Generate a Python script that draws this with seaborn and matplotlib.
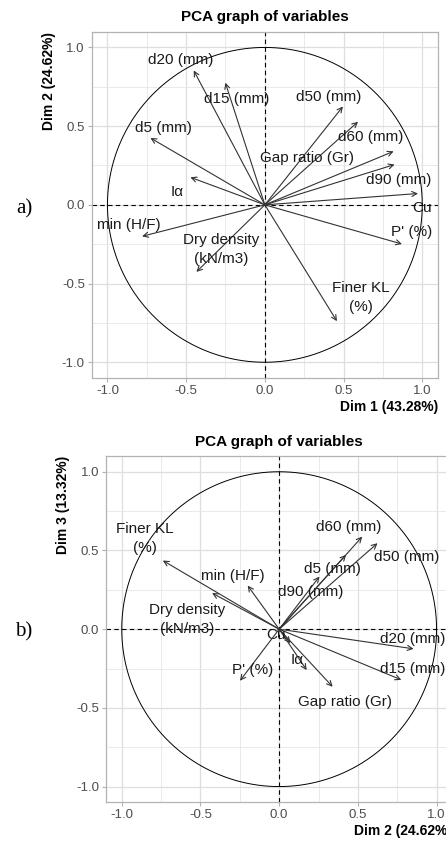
import numpy as np
import pandas as pd
import matplotlib
matplotlib.use("Agg")
import matplotlib.pyplot as plt
import seaborn as sns

# Variable coordinates (correlations) on the first three principal dimensions
variables = ["d20 (mm)", "d15 (mm)", "d50 (mm)", "d60 (mm)", "Gap ratio (Gr)",
             "d90 (mm)", "d5 (mm)", "I\u03b1", "Cu", "P' (%)",
             "Finer KL\n(%)", "min (H/F)", "Dry density\n(kN/m3)"]
dim1 = [-0.452, -0.251, 0.496, 0.592, 0.818, 0.824, -0.727, -0.473, 0.973, 0.871,
        0.458, -0.780, -0.435]
dim2 = [0.854, 0.776, 0.625, 0.528, 0.340, 0.256, 0.425, 0.175, 0.072, -0.249,
        -0.739, -0.200, -0.426]
dim3 = [-0.125, -0.322, 0.546, 0.588, -0.366, 0.334, 0.472, -0.260, -0.089, -0.328,
        0.436, 0.277, 0.229]

axis_ticks = [-1.0, -0.5, 0.0, 0.5, 1.0]
tick_labels = ["-1.0", "-0.5", "0.0", "0.5", "1.0"]
dim_labels = {"Dim 1": "Dim 1 (43.28%)", "Dim 2": "Dim 2 (24.62%)",
              "Dim 3": "Dim 3 (13.32%)"}

coords = pd.DataFrame({"variable": variables, "Dim 1": dim1, "Dim 2": dim2,
                       "Dim 3": dim3})

# Label placement (repelled away from the arrow tips)
label_pos_a = {
    "d20 (mm)": (-0.536, 0.918), "d15 (mm)": (-0.177, 0.675),
    "d50 (mm)": (0.405, 0.686), "d60 (mm)": (0.674, 0.428),
    "Gap ratio (Gr)": (0.268, 0.295), "d90 (mm)": (0.850, 0.158),
    "d5 (mm)": (-0.646, 0.489), "I\u03b1": (-0.557, 0.080),
    "Cu": (0.998, -0.021), "P' (%)": (0.930, -0.175),
    "Finer KL\n(%)": (0.611, -0.591), "min (H/F)": (-0.865, -0.127),
    "Dry density\n(kN/m3)": (-0.280, -0.283),
}
label_pos_b = {
    "d20 (mm)": (0.851, -0.063), "d15 (mm)": (0.851, -0.252),
    "d50 (mm)": (0.809, 0.457), "d60 (mm)": (0.444, 0.651),
    "Gap ratio (Gr)": (0.421, -0.464), "d90 (mm)": (0.199, 0.235),
    "d5 (mm)": (0.339, 0.383), "I\u03b1": (0.114, -0.199),
    "Cu": (-0.017, -0.036), "P' (%)": (-0.169, -0.258),
    "Finer KL\n(%)": (-0.853, 0.577), "min (H/F)": (-0.292, 0.340),
    "Dry density\n(kN/m3)": (-0.584, 0.061),
}

sns.set_theme(style="whitegrid")
plt.rcParams.update({
    "font.family": ["Liberation Sans", "DejaVu Sans"],
    "axes.unicode_minus": False,
    "axes.edgecolor": "#b3b3b3",
    "axes.linewidth": 0.8,
    "grid.color": "#dedede",
    "grid.linewidth": 0.8,
    "xtick.color": "#b3b3b3",
    "ytick.color": "#b3b3b3",
    "xtick.labelcolor": "#4d4d4d",
    "ytick.labelcolor": "#4d4d4d",
    "xtick.labelsize": 9.5,
    "ytick.labelsize": 9.5,
})

W, H = 446, 843
fig = plt.figure(figsize=(W / 100, H / 100), dpi=100)
panel = 346.3
ax_a = fig.add_axes([91.7 / W, (H - 378.0) / H, panel / W, panel / H])
ax_b = fig.add_axes([106.0 / W, (H - 802.3) / H, panel / W, panel / H])

theta = np.linspace(0, 2 * np.pi, 361)
circle = pd.DataFrame({"x": np.cos(theta), "y": np.sin(theta)})


def draw_panel(ax, xdim, ydim, label_pos, tag):
    ax.set_xlim(-1.1, 1.1)
    ax.set_ylim(-1.1, 1.1)
    ax.set_xticks(axis_ticks)
    ax.set_yticks(axis_ticks)
    ax.set_xticklabels(tick_labels)
    ax.set_yticklabels(tick_labels)
    ax.set_xticks([-0.75, -0.25, 0.25, 0.75], minor=True)
    ax.set_yticks([-0.75, -0.25, 0.25, 0.75], minor=True)
    ax.grid(which="major", color="#dedede", linewidth=0.9)
    ax.grid(which="minor", color="#e6e6e6", linewidth=0.6)
    ax.tick_params(which="major", length=3.0, width=0.8, pad=2, bottom=True,
                   left=True)
    ax.tick_params(which="minor", length=0)
    for s in ax.spines.values():
        s.set_visible(True)
        s.set_color("#b3b3b3")
        s.set_linewidth(0.9)
    ax.set_axisbelow(True)

    sns.lineplot(data=circle, x="x", y="y", sort=False, estimator=None,
                 color="black", linewidth=0.7, ax=ax)
    ax.axhline(0, color="black", linestyle=(0, (4, 3)), linewidth=0.8)
    ax.axvline(0, color="black", linestyle=(0, (4, 3)), linewidth=0.8)

    for _, row in coords.iterrows():
        ax.annotate("", xy=(row[xdim], row[ydim]), xytext=(0, 0),
                    arrowprops=dict(arrowstyle="->", color="#333333", lw=0.8,
                                    shrinkA=0, shrinkB=0, mutation_scale=9))
        lx, ly = label_pos[row["variable"]]
        ax.text(lx, ly, row["variable"], ha="center", va="center", fontsize=11,
                color="#1a1a1a", linespacing=1.45)

    ax.set_title("PCA graph of variables", fontsize=11, fontweight="bold",
                 color="black", pad=7.5)
    ax.set_xlabel(dim_labels[xdim], loc="right", fontsize=10, fontweight="bold",
                  color="black", labelpad=2)
    ax.set_ylabel(dim_labels[ydim], loc="top", fontsize=10, fontweight="bold",
                  color="black", labelpad=4)
    ax.set_aspect("auto")


draw_panel(ax_a, "Dim 1", "Dim 2", label_pos_a, "a)")
draw_panel(ax_b, "Dim 2", "Dim 3", label_pos_b, "b)")

fig.text(24 / W, 1 - 209 / H, "a)", family=["Liberation Serif", "DejaVu Serif"],
         fontsize=15, ha="center", va="center", color="black")
fig.text(24 / W, 1 - 632 / H, "b)", family=["Liberation Serif", "DejaVu Serif"],
         fontsize=15, ha="center", va="center", color="black")

fig.savefig("out.png", dpi=100, facecolor="white")
